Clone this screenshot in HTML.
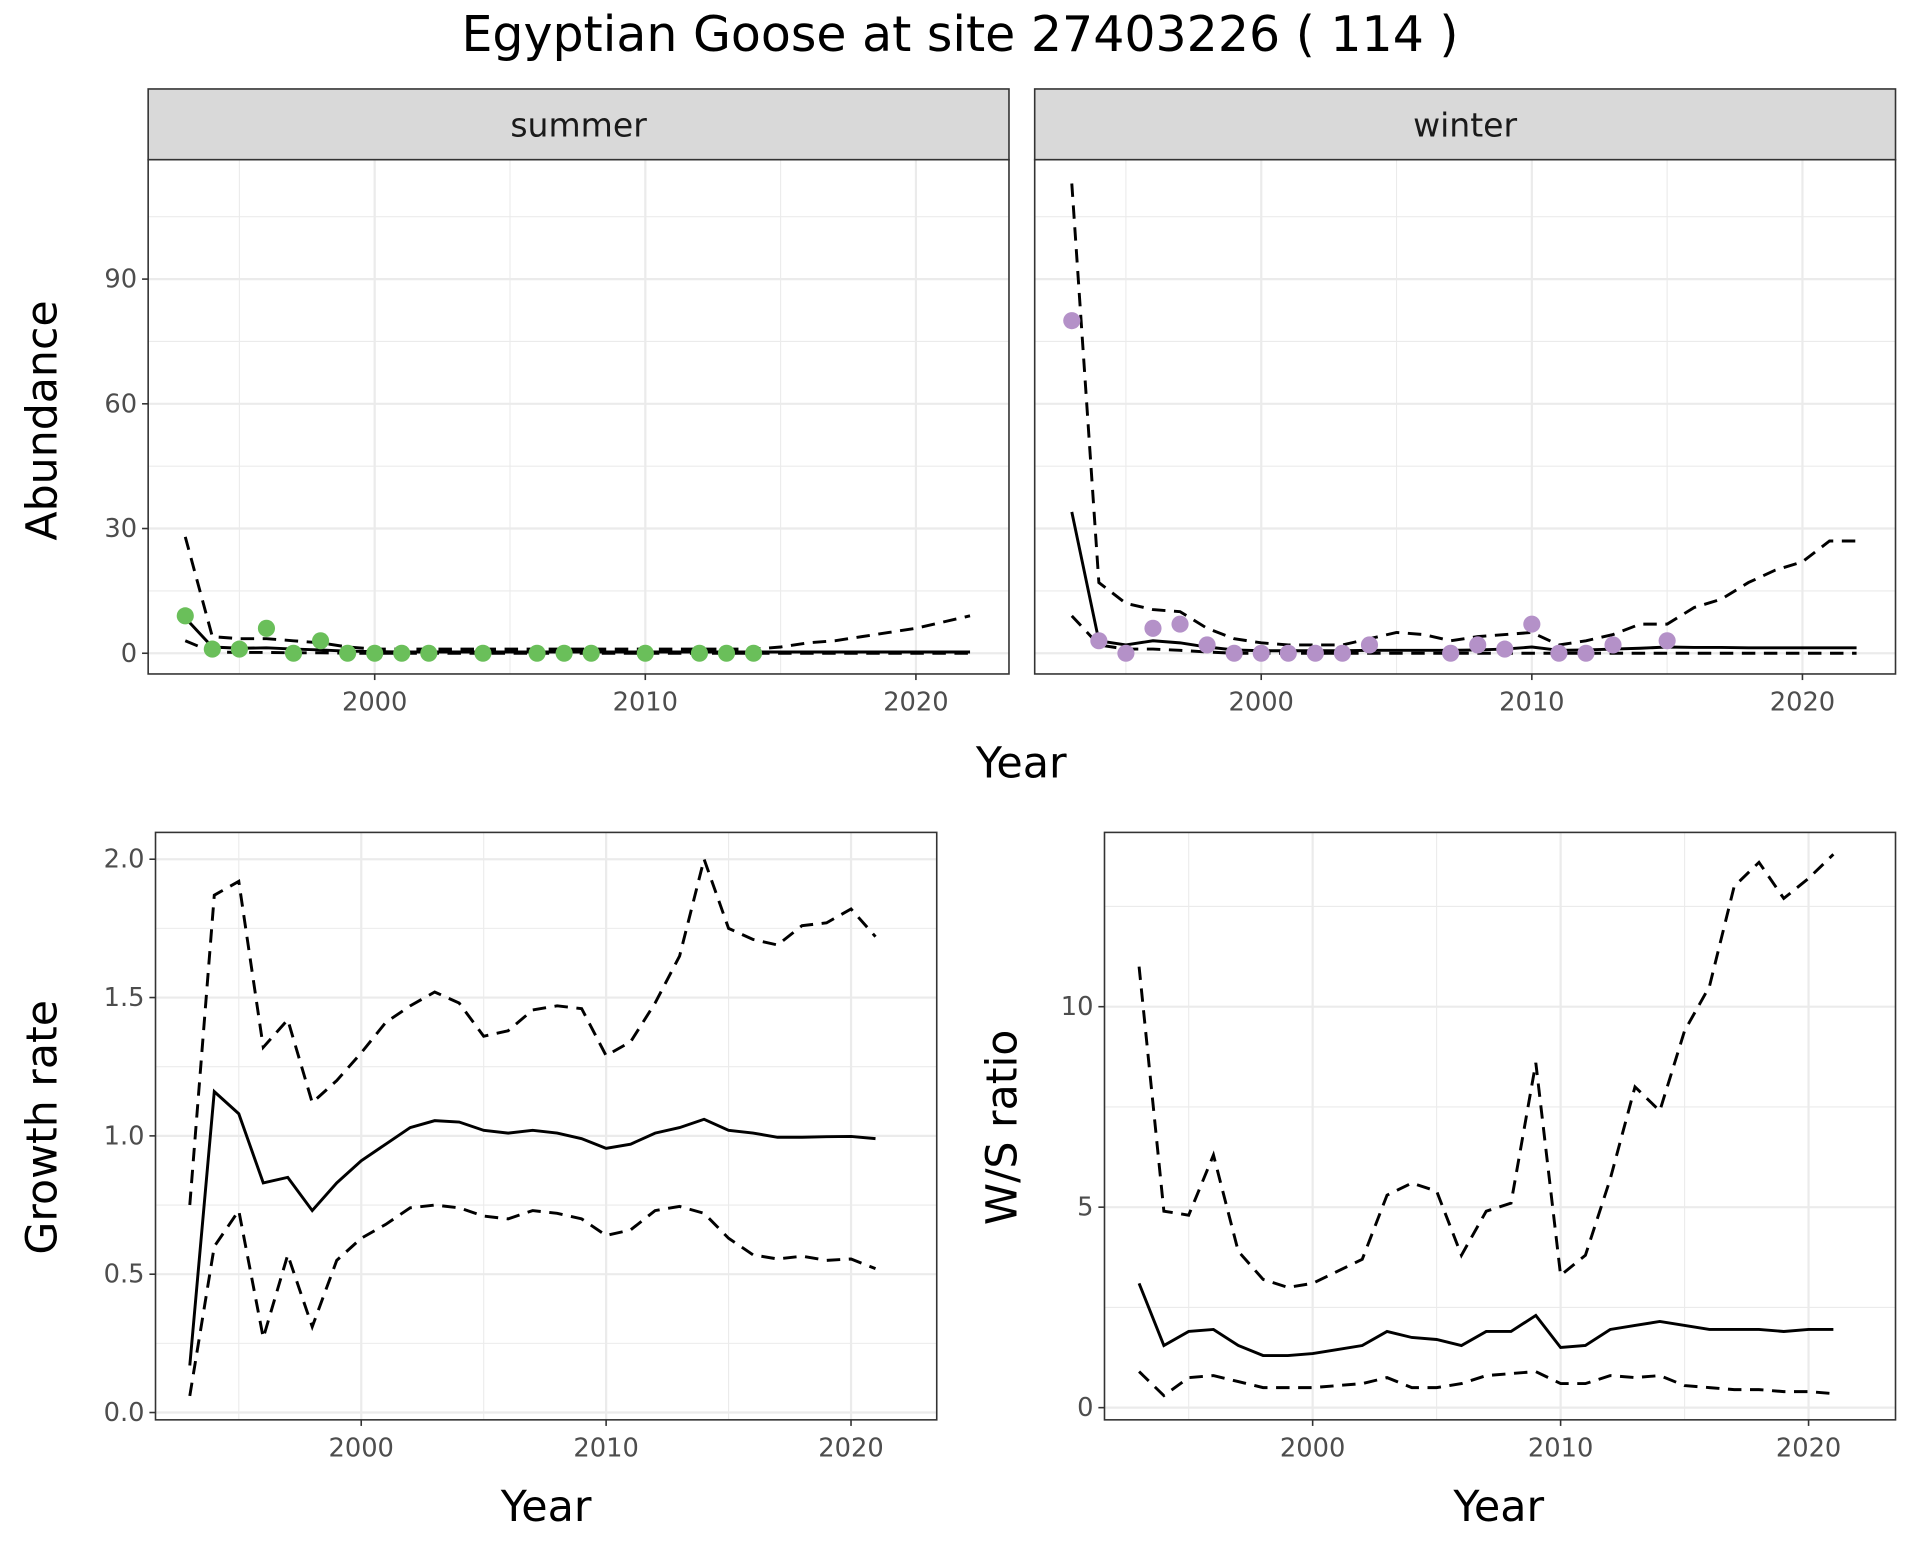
<!DOCTYPE html>
<html><head><meta charset="utf-8"><style>
html,body{margin:0;padding:0;background:#fff;width:1920px;height:1560px;overflow:hidden}
svg{display:block;font-family:"DejaVu Sans","Liberation Sans",sans-serif}
</style></head><body>
<svg id="fig" width="1920" height="1560" viewBox="0 0 1568 1280" preserveAspectRatio="none" xmlns="http://www.w3.org/2000/svg">
<text x="784" y="42" font-size="40" text-anchor="middle" fill="#000">Egyptian Goose at site 27403226 ( 114 )</text>
</svg>
<script>
// ---- data ----
const sumPtYears=[1993,1994,1995,1996,1997,1998,1999,2000,2001,2002,2004,2006,2007,2008,2010,2012,2013,2014];
const sumPtVals=[9,1,1,6,0,3,0,0,0,0,0,0,0,0,0,0,0,0];
const abYears=[1993,1994,1995,1996,1997,1998,1999,2000,2001,2002,2003,2004,2005,2006,2007,2008,2009,2010,2011,2012,2013,2014,2015,2016,2017,2018,2019,2020,2021,2022];
const sumMean=[8.5,1.5,1.2,1.3,1,0.8,0.5,0.4,0.3,0.3,0.3,0.3,0.3,0.3,0.3,0.3,0.3,0.3,0.3,0.3,0.3,0.3,0.3,0.3,0.3,0.3,0.3,0.3,0.3,0.3];
const sumUpper=[28,4,3.5,3.5,3,2.5,1.5,1,1,1,1,1,1,1,1,1,1,1,1,1,1,1,1.5,2.5,3,4,5,6,7.5,9];
const sumLower=[3,0.3,0.2,0.2,0.1,0.1,0,0,0,0,0,0,0,0,0,0,0,0,0,0,0,0,0,0,0,0,0,0,0,0];
const winPtYears=[1993,1994,1995,1996,1997,1998,1999,2000,2001,2002,2003,2004,2007,2008,2009,2010,2011,2012,2013,2015];
const winPtVals=[80,3,0,6,7,2,0,0,0,0,0,2,0,2,1,7,0,0,2,3];
const winMean=[34,3,2,3,2.5,1.5,0.8,0.6,0.6,0.6,0.6,0.7,0.7,0.7,0.7,0.8,1,1.5,0.7,0.8,1,1.2,1.5,1.4,1.4,1.3,1.3,1.3,1.3,1.3];
const winUpper=[113,17,12,10.5,10,6,3.5,2.5,2,2,2,3.5,5,4.5,3,4,4.5,5,2,3,4.5,7,7,11,13,17,20,22,27,27];
const winLower=[9,2,1,1,0.7,0.3,0,0,0,0,0,0,0,0,0,0,0,0,0,0,0,0,0,0,0,0,0,0,0,0];
const grYears=[1993,1994,1995,1996,1997,1998,1999,2000,2001,2002,2003,2004,2005,2006,2007,2008,2009,2010,2011,2012,2013,2014,2015,2016,2017,2018,2019,2020,2021];
const grMean=[0.17,1.16,1.08,0.83,0.85,0.73,0.83,0.91,0.97,1.03,1.055,1.05,1.02,1.01,1.02,1.01,0.99,0.955,0.97,1.01,1.03,1.06,1.02,1.01,0.995,0.995,0.997,0.998,0.99];
const grUpper=[0.75,1.87,1.92,1.32,1.42,1.12,1.2,1.3,1.41,1.47,1.52,1.48,1.36,1.38,1.455,1.47,1.46,1.29,1.34,1.48,1.65,2.0,1.75,1.71,1.69,1.76,1.77,1.82,1.72];
const grLower=[0.06,0.6,0.73,0.27,0.57,0.31,0.55,0.63,0.68,0.74,0.75,0.74,0.71,0.70,0.73,0.72,0.70,0.64,0.66,0.73,0.745,0.72,0.63,0.57,0.555,0.565,0.55,0.555,0.52];
const wsMean=[3.1,1.55,1.9,1.95,1.55,1.3,1.3,1.35,1.45,1.55,1.9,1.75,1.7,1.55,1.9,1.9,2.3,1.5,1.55,1.95,2.05,2.15,2.05,1.95,1.95,1.95,1.9,1.95,1.95];
const wsUpper=[11,4.9,4.8,6.3,3.9,3.2,3.0,3.1,3.4,3.7,5.3,5.6,5.4,3.8,4.9,5.1,8.6,3.3,3.8,5.7,8.0,7.4,9.4,10.5,13,13.6,12.7,13.2,13.8];
const wsLower=[0.9,0.3,0.75,0.8,0.65,0.5,0.5,0.5,0.55,0.6,0.75,0.5,0.5,0.6,0.8,0.85,0.9,0.6,0.6,0.8,0.75,0.8,0.55,0.5,0.45,0.45,0.4,0.4,0.35];
const xTicks=[2000,2010,2020];
const abTicks=[0,30,60,90];
const grTicks=[0.0,0.5,1.0,1.5,2.0];
const grTickLabels=["0.0","0.5","1.0","1.5","2.0"];
const wsTicks=[0,5,10];

const NS="http://www.w3.org/2000/svg";
const svg=document.getElementById('fig');
function mk(tag,attrs,parent){const e=document.createElementNS(NS,tag);for(const k in attrs)e.setAttribute(k,attrs[k]);(parent||svg).appendChild(e);return e;}
function lin(d0,d1,r0,r1){return v=>r0+(v-d0)*(r1-r0)/(d1-d0);}

function panel(o){
  const g=mk('g',{});
  
  
  const {x0,x1,y0,y1,sx,sy}=o;
  o.yMinor.forEach(v=>{const y=sy(v);if(y>y0&&y<y1){const l=mk('line',{x1:x0,x2:x1,y1:y,y2:y,stroke:'#ebebeb','stroke-width':0.9},g);}});
  o.xMinor.forEach(v=>{const x=sx(v);if(x>x0&&x<x1){const l=mk('line',{x1:x,x2:x,y1:y0,y2:y1,stroke:'#ebebeb','stroke-width':0.9},g);}});
  o.yTicks.forEach(v=>{const y=sy(v);const l=mk('line',{x1:x0,x2:x1,y1:y,y2:y,stroke:'#ebebeb','stroke-width':1.8},g);});
  xTicks.forEach(v=>{const x=sx(v);const l=mk('line',{x1:x,x2:x,y1:y0,y2:y1,stroke:'#ebebeb','stroke-width':1.8},g);});
  const line=(xs,ys,dash,nm)=>{const p=mk('polyline',{points:xs.map((x,i)=>sx(x)+','+sy(ys[i])).join(' '),fill:'none',stroke:'#000','stroke-width':2.4,'stroke-dasharray':dash?'11,7':'none'},g);};
  o.series.forEach(s=>line(s.x,s.y,s.dash,s.name));
  if(o.points){o.points.x.forEach((xv,i)=>{const c=mk('circle',{cx:sx(xv),cy:sy(o.points.y[i]),r:7,fill:o.points.color},g);});}
  const b=mk('rect',{x:x0,y:y0,width:x1-x0,height:y1-y0,fill:'none',stroke:'#333','stroke-width':1.3},g);
  
  if(o.showY){o.yTicks.forEach((v,i)=>{const y=sy(v);mk('line',{x1:x0-5,x2:x0,y1:y,y2:y,stroke:'#333','stroke-width':1.3},g);const t=mk('text',{x:x0-9,y:y+7,'font-size':21,'text-anchor':'end',fill:'#4d4d4d'},g);t.textContent=o.yLabels?o.yLabels[i]:String(v);});}
  xTicks.forEach(v=>{const x=sx(v);mk('line',{x1:x,x2:x,y1:y1,y2:y1+5,stroke:'#333','stroke-width':1.3},g);const t=mk('text',{x:x,y:y1+30,'font-size':21,'text-anchor':'middle',fill:'#4d4d4d'},g);t.textContent=String(v);});
  if(o.strip){const r=mk('rect',{x:x0,y:73,width:x1-x0,height:y0-73,fill:'#d9d9d9',stroke:'#333','stroke-width':1.3},g);const t=mk('text',{x:(x0+x1)/2,y:112,'font-size':27,'text-anchor':'middle',fill:'#1a1a1a'},g);t.textContent=o.strip;}
  return g;
}
function title(txt,x,y,rot,nm){const t=mk('text',{x:x,y:y,'font-size':35,'text-anchor':'middle',fill:'#000',transform:rot?`rotate(-90 ${x} ${y})`:''});t.textContent=txt;}

const abY=lin(0,90,536,229);
const sxS=lin(2000,2020,306,748), sxW=lin(2000,2020,1030,1472);
const abMinor=[15,45,75,105], xMinor=[1995,2005,2015];
panel({name:'summer-panel',x0:121,x1:824,y0:131,y1:553,sx:sxS,sy:abY,yTicks:abTicks,yMinor:abMinor,xMinor,showY:true,strip:'summer',
 series:[{x:abYears,y:sumUpper,dash:true,name:'summer-upper-ci'},{x:abYears,y:sumLower,dash:true,name:'summer-lower-ci'},{x:abYears,y:sumMean,dash:false,name:'summer-mean'}],
 points:{x:sumPtYears,y:sumPtVals,color:'#6abf5a'}});
panel({name:'winter-panel',x0:845,x1:1548,y0:131,y1:553,sx:sxW,sy:abY,yTicks:abTicks,yMinor:abMinor,xMinor,showY:false,strip:'winter',
 series:[{x:abYears,y:winUpper,dash:true,name:'winter-upper-ci'},{x:abYears,y:winLower,dash:true,name:'winter-lower-ci'},{x:abYears,y:winMean,dash:false,name:'winter-mean'}],
 points:{x:winPtYears,y:winPtVals,color:'#b491c8'}});
title('Abundance',46,345,true,'y-axis-title-abundance');
title('Year',834,638,false,'x-axis-title-top');

panel({name:'growth-rate-panel',x0:127,x1:765,y0:683,y1:1165,sx:lin(2000,2020,295,695),sy:lin(0,2,1159,705),yTicks:grTicks,yLabels:grTickLabels,yMinor:[0.25,0.75,1.25,1.75],xMinor,showY:true,
 series:[{x:grYears,y:grUpper,dash:true,name:'growth-upper-ci'},{x:grYears,y:grLower,dash:true,name:'growth-lower-ci'},{x:grYears,y:grMean,dash:false,name:'growth-mean'}]});
title('Growth rate',46,925,true,'y-axis-title-growth');
title('Year',446,1248,false,'x-axis-title-growth');

panel({name:'ws-ratio-panel',x0:902,x1:1548,y0:683,y1:1165,sx:lin(2000,2020,1072,1477),sy:lin(0,10,1155,826),yTicks:wsTicks,yMinor:[2.5,7.5,12.5],xMinor,showY:true,
 series:[{x:grYears,y:wsUpper,dash:true,name:'ws-upper-ci'},{x:grYears,y:wsLower,dash:true,name:'ws-lower-ci'},{x:grYears,y:wsMean,dash:false,name:'ws-mean'}]});
title('W/S ratio',830,925,true,'y-axis-title-ws');
title('Year',1224,1248,false,'x-axis-title-ws');
</script>
</body></html>
